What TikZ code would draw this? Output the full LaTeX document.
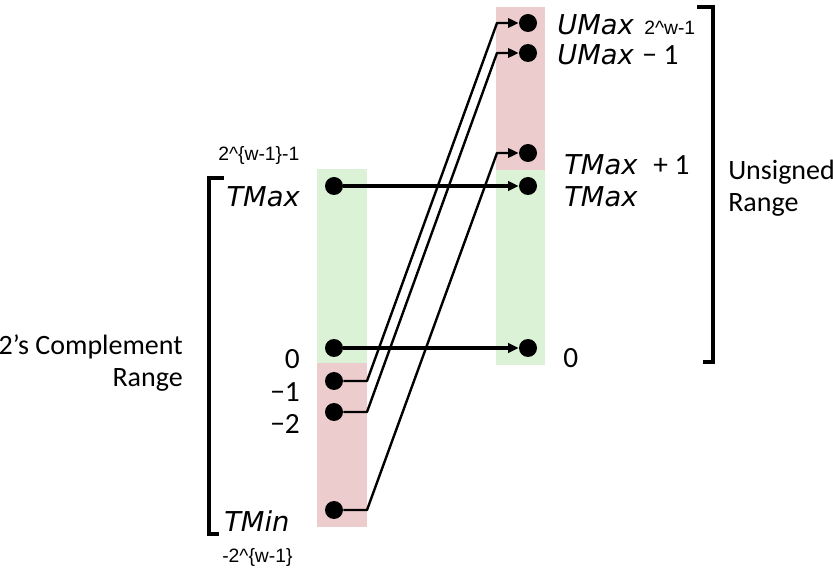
\documentclass[tikz,border=0pt]{standalone}
\usepackage{fontspec}
\setmainfont{Carlito}
\newfontfamily\valfont{DejaVu Sans}
\newfontfamily\expfont{Liberation Sans}
\usetikzlibrary{arrows.meta}

\definecolor{negred}{RGB}{236,204,204}
\definecolor{posgreen}{RGB}{220,242,214}

\tikzset{
  dot/.style={circle, fill=black, inner sep=0pt, minimum size=13.5pt},
  mapto/.style={line width=2.6pt, -{Triangle[length=8pt,width=7pt]}},
  wrapto/.style={line width=1.8pt, line join=round, -{Triangle[length=8pt,width=7pt]}},
  bracket/.style={line width=2.4pt, line join=miter},
  numlbl/.style={inner sep=0pt, font=\fontsize{22}{24}\selectfont},
  varlbl/.style={inner sep=0pt, font=\valfont\itshape\fontsize{20.5}{24}\selectfont},
  explbl/.style={inner sep=0pt, font=\expfont\fontsize{14.5}{17}\selectfont},
  rangelbl/.style={inner sep=0pt, font=\fontsize{21}{24}\selectfont}
}

\begin{document}
\begin{tikzpicture}[x=0.75pt, y=-0.75pt]
    \useasboundingbox (0,0) rectangle (833,577);

    % Bars: signed (left) and unsigned (right)
    \fill[posgreen] (317,169) rectangle (367,363);
    \fill[negred] (317,363) rectangle (367,527);
    \fill[negred] (496,7) rectangle (545,170);
    \fill[posgreen] (496,170) rectangle (545,365);

    % Signed values
    \node[dot] (stmax) at (334,186) {};
    \node[dot] (szero) at (334,348) {};
    \node[dot] (sneg1) at (334,381) {};
    \node[dot] (sneg2) at (334,412) {};
    \node[dot] (stmin) at (334,510) {};

    % Unsigned values
    \node[dot] (uumax) at (528,23) {};
    \node[dot] (uumaxm) at (528,53) {};
    \node[dot] (utmaxp) at (528,153) {};
    \node[dot] (utmax) at (528,186) {};
    \node[dot] (uzero) at (528,348) {};

    % Bend columns
    \coordinate (lx) at (367,0);
    \coordinate (rx) at (497,0);

    % Mapping T2U
    \draw[mapto] (stmax) -- (utmax);
    \draw[mapto] (szero) -- (uzero);
    \draw[wrapto] (sneg1) -- (sneg1 -| lx) -- (uumax -| rx) -- (uumax);
    \draw[wrapto] (sneg2) -- (sneg2 -| lx) -- (uumaxm -| rx) -- (uumaxm);
    \draw[wrapto] (stmin) -- (stmin -| lx) -- (utmaxp -| rx) -- (utmaxp);

    % Range brackets
    \draw[bracket] (224,178) -- (209,178) -- (209,534) -- (219,534);
    \draw[bracket] (697,7) -- (713,7) -- (713,362) -- (703,362);

    % Left labels
    \node[explbl, anchor=base west] (lexp) at (218,161) {2\textasciicircum\{w-1\}-1};
    \node[varlbl, anchor=base east] (ltmax) at (300,207) {TMax};
    \node[numlbl, anchor=base east] (lzero) at (300,369) {0};
    \node[numlbl, anchor=base east] (lneg1) at (300,402) {−1};
    \node[numlbl, anchor=base east] (lneg2) at (300,434) {−2};
    \node[varlbl, anchor=base west] (ltmin) at (224,532) {TMin};
    \node[explbl, anchor=base west] (lmexp) at (222,563) {-2\textasciicircum\{w-1\}};
    \node[rangelbl, anchor=east, align=right] (trange) at (183,363) {2’s Complement\\Range};

    % Right labels
    \node[varlbl, anchor=base west] (rumax) at (557,35) {UMax};
    \node[explbl, anchor=base west] (rumaxexp) at (644,35) {2\textasciicircum w-1};
    \node[varlbl, anchor=base west] (rumaxm) at (557,65) {UMax};
    \node[numlbl, anchor=base west] (rminus) at (642,65) {− 1};
    \node[varlbl, anchor=base west] (rtmaxp) at (564,175) {TMax};
    \node[numlbl, anchor=base west] (rplus) at (653,175) {+ 1};
    \node[varlbl, anchor=base west] (rtmax) at (564,207) {TMax};
    \node[numlbl, anchor=base west] (rzero) at (563,368) {0};
    \node[rangelbl, anchor=west, align=left] (urange) at (728,188) {Unsigned\\Range};
\end{tikzpicture}
\end{document}
